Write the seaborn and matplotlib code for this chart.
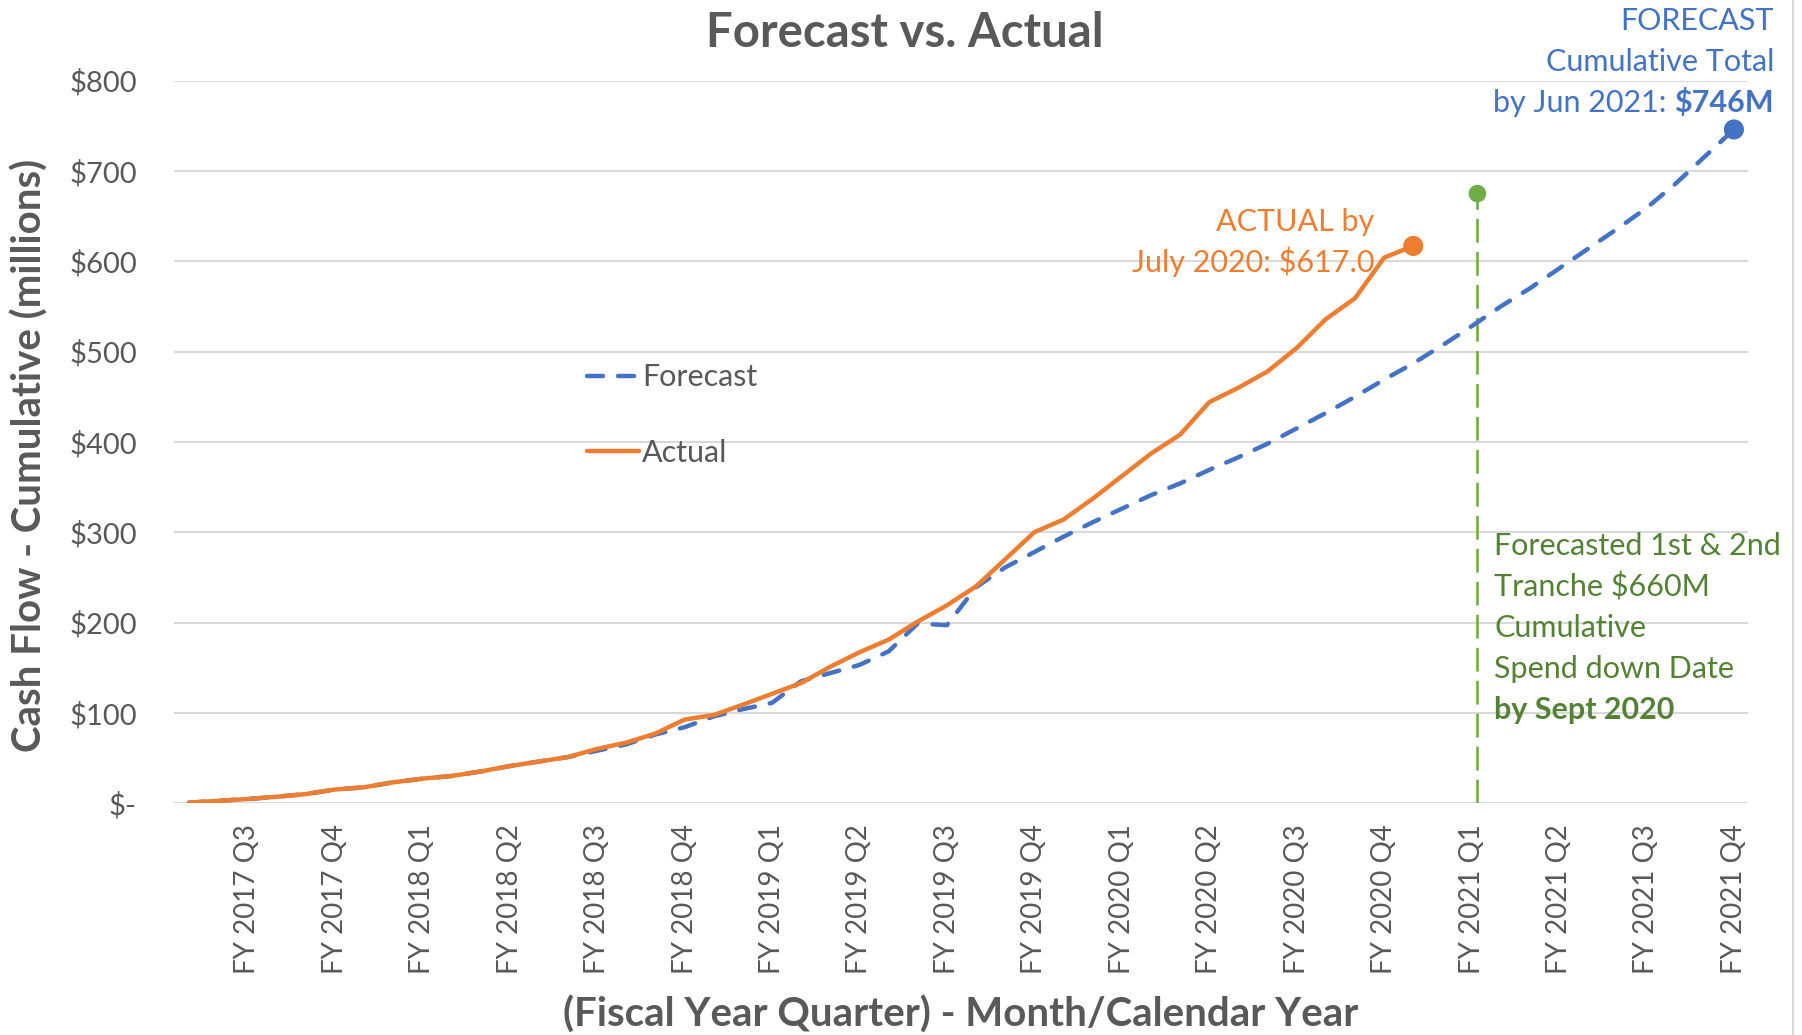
import numpy as np
import pandas as pd
import matplotlib
matplotlib.use('Agg')
import matplotlib.pyplot as plt
import seaborn as sns

# monthly categories, Jan 2017 .. Jun 2021
months = list(pd.date_range('2017-01-01', periods=54, freq='MS').strftime('%b %Y'))

quarter_labels = ['FY 2017 Q3', 'FY 2017 Q4', 'FY 2018 Q1', 'FY 2018 Q2', 'FY 2018 Q3',
                  'FY 2018 Q4', 'FY 2019 Q1', 'FY 2019 Q2', 'FY 2019 Q3', 'FY 2019 Q4',
                  'FY 2020 Q1', 'FY 2020 Q2', 'FY 2020 Q3', 'FY 2020 Q4', 'FY 2021 Q1',
                  'FY 2021 Q2', 'FY 2021 Q3', 'FY 2021 Q4']
quarter_end_months = ['Mar 2017', 'Jun 2017', 'Sep 2017', 'Dec 2017', 'Mar 2018', 'Jun 2018',
                      'Sep 2018', 'Dec 2018', 'Mar 2019', 'Jun 2019', 'Sep 2019', 'Dec 2019',
                      'Mar 2020', 'Jun 2020', 'Sep 2020', 'Dec 2020', 'Mar 2021', 'Jun 2021']

forecast = [0.5, 2.5, 4.5, 7, 10, 15, 17.5, 23, 27, 30, 35, 41, 46, 51, 58,
            65, 76, 84, 96, 104, 111, 135, 144, 153, 168, 199, 197, 239, 261, 278,
            295, 311, 326, 341, 354, 369, 383, 398, 415, 432, 450, 469, 487, 507,
            528, 550, 570, 592, 614, 636, 659, 686, 716, 746]
actual = [0.5, 2.5, 4.5, 7, 10, 15, 17.5, 23, 27, 30, 35, 41, 46, 51, 60,
          67, 77, 92.5, 97.5, 109, 121, 133, 151, 167, 181, 201, 219, 240, 270, 300,
          314, 337, 362, 387, 408, 444, 460, 478, 504, 536, 559, 604, 617]

y_ticks = [0, 100, 200, 300, 400, 500, 600, 700, 800]
y_tick_labels = ['$-', '$100', '$200', '$300', '$400', '$500', '$600', '$700', '$800']

spend_down_month = 'Sep 2020'
tranche_marker = 675

BLUE = '#4472C4'
ORANGE = '#ED7D31'
GREEN = '#70AD47'
DKGREEN = '#548235'
GREY = '#595959'

sns.set_style('white')
plt.rcParams['font.family'] = ['Lato', 'DejaVu Sans']

W, H = 1802, 1035
fig = plt.figure(figsize=(W / 100, H / 100), dpi=100)
ax = fig.add_axes([174.4 / W, 1 - 803.1 / H, (1748.5 - 174.4) / W, (803.1 - 80.7) / H])


def px(x, y):
    return x / W, 1 - y / H


data = pd.concat([
    pd.DataFrame({'month': np.arange(len(forecast)), 'value': forecast, 'series': 'Forecast'}),
    pd.DataFrame({'month': np.arange(len(actual)), 'value': actual, 'series': 'Actual'}),
])

sns.lineplot(data=data, x='month', y='value', hue='series', style='series',
             hue_order=['Forecast', 'Actual'], style_order=['Forecast', 'Actual'],
             palette={'Forecast': BLUE, 'Actual': ORANGE},
             dashes={'Forecast': (3.6, 3.4), 'Actual': ''},
             linewidth=3.2, ax=ax, zorder=3)
for ln in ax.get_lines():
    ln.set_dash_capstyle('round')
    ln.set_solid_joinstyle('round')

# end markers
sns.scatterplot(x=[len(forecast) - 1], y=[forecast[-1]], color=BLUE, s=210, edgecolor='none', ax=ax, zorder=4)
sns.scatterplot(x=[len(actual) - 1], y=[actual[-1]], color=ORANGE, s=210, edgecolor='none', ax=ax, zorder=4)

# spend-down date marker (drawn a touch right of the month centre, as in the source)
sd = months.index(spend_down_month) + 0.2
ax.plot([sd, sd], [0, tranche_marker], color=GREEN, lw=1.9, dashes=(9, 3.5), zorder=2)
sns.scatterplot(x=[sd], y=[tranche_marker], color=GREEN, s=160, edgecolor='none', ax=ax, zorder=4)

ax.set_xlim(-0.5, len(months) - 0.5)
ax.set_ylim(0, 800)
ax.set_xticks([months.index(m) for m in quarter_end_months])
ax.set_xticklabels(quarter_labels, rotation=90, fontsize=20, color=GREY)
ax.set_yticks(y_ticks)
ax.set_yticklabels(y_tick_labels, fontsize=21, color=GREY)
ax.tick_params(axis='x', length=0, pad=15)
ax.tick_params(axis='y', length=0, pad=27)
ax.grid(axis='y', color='#d9d9d9', lw=1.5)
ax.set_axisbelow(True)
for s in ax.spines.values():
    s.set_visible(False)
ax.set_xlabel('')
ax.set_ylabel('')

handles, labels = ax.get_legend_handles_labels()
ax.legend(handles[:2], labels[:2], frameon=False, fontsize=22, labelcolor=GREY,
          loc='upper left', bbox_to_anchor=px(572, 348), bbox_transform=fig.transFigure,
          borderpad=0, handlelength=1.7, handletextpad=0.1, labelspacing=1.55)

fig.text(*px(905, 33), 'Forecast vs. Actual', fontsize=34, fontweight='bold',
         color=GREY, ha='center', va='center')
fig.text(*px(30, 455), 'Cash Flow - Cumulative (millions)', fontsize=29, fontweight='bold',
         color=GREY, ha='center', va='center', rotation=90)
fig.text(*px(961, 1015), '(Fiscal Year Quarter) - Month/Calendar Year', fontsize=29,
         fontweight='bold', color=GREY, ha='center', va='center')

# actual annotation
fig.text(*px(1374, 222), 'ACTUAL by', fontsize=22, color=ORANGE, ha='right', va='center')
fig.text(*px(1374, 262), 'July 2020: $617.0', fontsize=22, color=ORANGE, ha='right', va='center')

# forecast annotation
fig.text(*px(1774, 21), 'FORECAST', fontsize=22, color=BLUE, ha='right', va='center')
fig.text(*px(1774, 62), 'Cumulative Total', fontsize=22, color=BLUE, ha='right', va='center')
bold_t = fig.text(*px(1774, 103), '$746M', fontsize=22, color=BLUE, ha='right', va='center',
                  fontweight='bold')
fig.canvas.draw()
bb = bold_t.get_window_extent(fig.canvas.get_renderer())
fig.text(bb.x0 / W, 1 - 103 / H, 'by Jun 2021: ', fontsize=22, color=BLUE, ha='right', va='center')

# tranche annotation
green_lines = ['Forecasted 1st & 2nd', 'Tranche $660M', 'Cumulative', 'Spend down Date', 'by Sept 2020']
for k, line in enumerate(green_lines):
    fig.text(*px(1494, 546 + 41 * k), line, fontsize=22, color=DKGREEN, ha='left', va='center',
             fontweight='bold' if k == len(green_lines) - 1 else 'normal')

fig.add_artist(plt.Line2D([1793 / W, 1793 / W], [0, 1], color='#d9d9d9', lw=1.5))

fig.savefig('out.png', dpi=100)
